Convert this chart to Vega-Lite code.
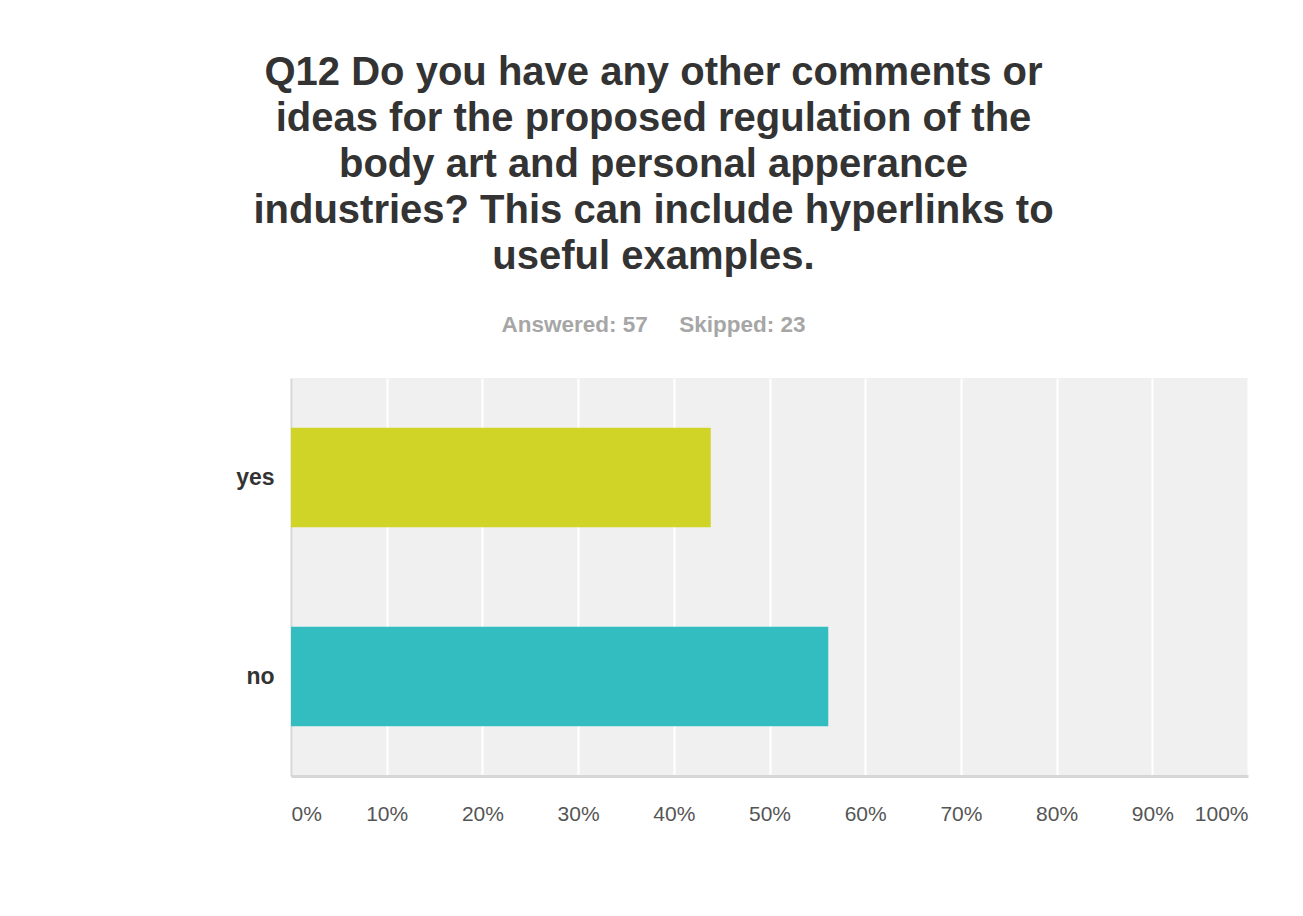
{
  "$schema": "https://vega.github.io/schema/vega-lite/v6.json",
  "autosize": {"type": "none"},
  "padding": {"left": 291, "top": 378, "right": 55, "bottom": 140},
  "width": 957,
  "height": 398,
  "background": "#ffffff",
  "title": {
    "text": ["Q12 Do you have any other comments or", "ideas for the proposed regulation of the", "body art and personal apperance", "industries? This can include hyperlinks to", "useful examples."],
    "subtitle": "Answered: 57\u00a0\u00a0\u00a0\u00a0\u00a0Skipped: 23",
    "anchor": "middle",
    "dx": -116,
    "font": "Liberation Sans",
    "fontSize": 40,
    "fontWeight": "bold",
    "color": "#333333",
    "lineHeight": 46,
    "subtitleFont": "Liberation Sans",
    "subtitleFontSize": 22.5,
    "subtitleFontWeight": "bold",
    "subtitleColor": "#a6a6a6",
    "subtitlePadding": 37,
    "offset": 42
  },
  "data": {
    "values": [
      {"answer": "yes", "share": 0.4386},
      {"answer": "no", "share": 0.5614}
    ]
  },
  "mark": {"type": "bar"},
  "encoding": {
    "y": {
      "field": "answer",
      "type": "nominal",
      "sort": ["yes", "no"],
      "scale": {"paddingInner": 0.5, "paddingOuter": 0.25},
      "axis": {
        "title": null,
        "ticks": false,
        "domain": true,
        "domainColor": "#d6d6d6",
        "domainWidth": 2,
        "labelFont": "Liberation Sans",
        "labelFontSize": 23,
        "labelFontWeight": "bold",
        "labelColor": "#333333",
        "labelPadding": 17,
        "grid": false
      }
    },
    "x": {
      "field": "share",
      "type": "quantitative",
      "scale": {"domain": [0, 1], "nice": false},
      "axis": {
        "title": null,
        "values": [0, 0.1, 0.2, 0.3, 0.4, 0.5, 0.6, 0.7, 0.8, 0.9, 1],
        "format": ".0%",
        "ticks": false,
        "domain": true,
        "domainColor": "#d6d6d6",
        "domainWidth": 3,
        "grid": true,
        "gridColor": "#ffffff",
        "gridWidth": 2,
        "labelFont": "Liberation Sans",
        "labelFontSize": 21,
        "labelColor": "#555555",
        "labelPadding": 27,
        "labelFlush": true
      }
    },
    "color": {
      "field": "answer",
      "type": "nominal",
      "scale": {"domain": ["yes", "no"], "range": ["#cfd426", "#33bdc0"]},
      "legend": null
    }
  },
  "config": {
    "view": {"fill": "#f0f0f0", "stroke": null}
  }
}
